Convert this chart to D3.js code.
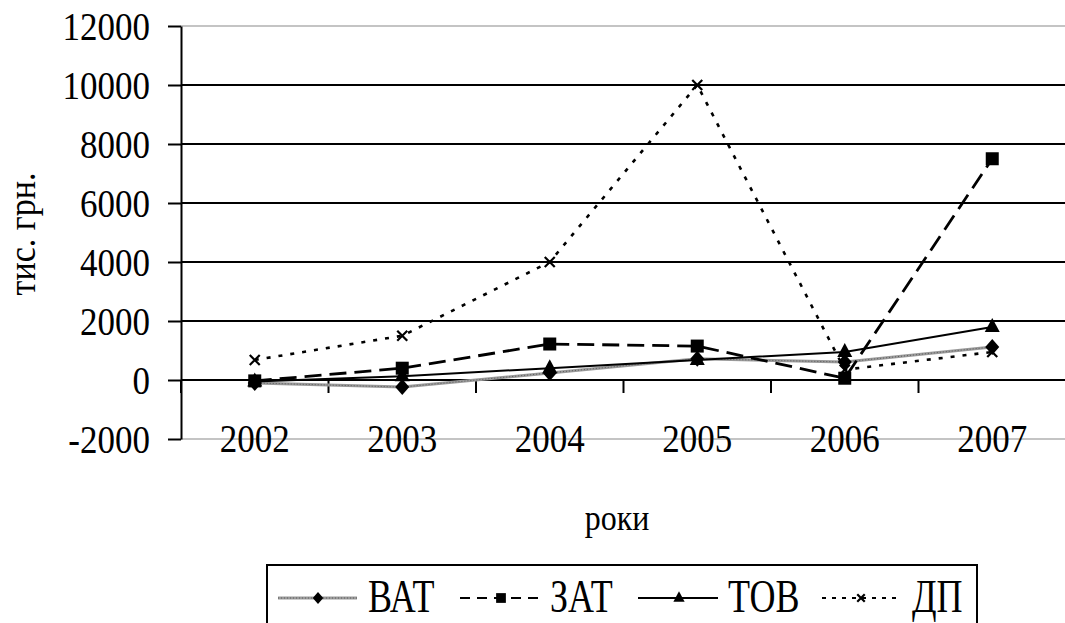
<!DOCTYPE html>
<html>
<head>
<meta charset="utf-8">
<script src="https://cdn.jsdelivr.net/npm/d3@7"></script>
<style>
  html, body { margin: 0; padding: 0; background: #fff; }
  svg { display: block; }
</style>
</head>
<body>
<svg id="chart" width="1065" height="623"></svg>
<script>
// Річні показники за типами підприємств, тис. грн.
const years = ["2002", "2003", "2004", "2005", "2006", "2007"];
const vat = [-100, -240, 240, 720, 610, 1120];
const zat = [-30, 400, 1220, 1150, 60, 7500];
const tov = [-50, 130, 400, 680, 950, 1800];
const dp  = [680, 1500, 4000, 10000, 350, 950];
const yTicks = [-2000, 0, 2000, 4000, 6000, 8000, 10000, 12000];
const seriesNames = ["ВАТ", "ЗАТ", "ТОВ", "ДП"];

const FONT = "Liberation Serif, DejaVu Serif, serif";
const svg = d3.select("#chart");
const W = 1065;

const plotLeft = 181, band = 147.5;
const x = d3.scaleBand().domain(years).range([plotLeft, plotLeft + band * years.length]).padding(0);
const cx = d => x(d) + x.bandwidth() / 2;
const y = d3.scaleLinear().domain([-2000, 12000]).range([439, 26]);

// horizontal gridlines; top and bottom edges are the light plot border
svg.append("g").selectAll("line").data(yTicks).join("line")
  .attr("x1", plotLeft).attr("x2", W)
  .attr("y1", d => y(d)).attr("y2", d => y(d))
  .attr("stroke", d => (d === 12000 || d === -2000) ? "#c4c4c4" : "#000")
  .attr("stroke-width", 2);

// value axis
const yAxis = d3.axisLeft(y).tickValues(yTicks).tickSize(13).tickSizeOuter(0).tickFormat("");
const gy = svg.append("g").attr("transform", `translate(${plotLeft},0)`).call(yAxis);
gy.select(".domain").attr("stroke", "#000").attr("stroke-width", 2);
gy.selectAll(".tick line").attr("stroke", "#000").attr("stroke-width", 2);

svg.append("g").selectAll("text").data(yTicks).join("text")
  .attr("transform", d => `translate(150,${y(d) + 14}) scale(1,1.15)`)
  .attr("text-anchor", "end")
  .attr("font-family", FONT)
  .attr("font-size", 35)
  .text(d => d);

// category boundary ticks hanging from the zero line
const bounds = years.map(d => x(d)).concat([x.range()[1]]);
svg.append("g").selectAll("line").data(bounds).join("line")
  .attr("x1", d => d).attr("x2", d => d)
  .attr("y1", y(0)).attr("y2", y(0) + 13)
  .attr("stroke", "#000").attr("stroke-width", 2);

// category labels along the bottom edge
svg.append("g").selectAll("text").data(years).join("text")
  .attr("transform", d => `translate(${cx(d)},452) scale(1,1.15)`)
  .attr("text-anchor", "middle")
  .attr("font-family", FONT)
  .attr("font-size", 35)
  .text(d => d);

// axis titles
svg.append("text")
  .attr("transform", "translate(617,530) scale(1,1.15)")
  .attr("text-anchor", "middle")
  .attr("font-family", FONT)
  .attr("font-size", 32)
  .text("роки");

svg.append("text")
  .attr("transform", "translate(35,234) rotate(-90) scale(1,1.1)")
  .attr("text-anchor", "middle")
  .attr("font-family", FONT)
  .attr("font-size", 34)
  .text("тис. грн.");

// series styles
const styles = [
  { name: "ВАТ", values: vat, stroke: "#9a9a9a", width: 3, dash: null, overlay: true, marker: "diamond" },
  { name: "ЗАТ", values: zat, stroke: "#000", width: 2.8, dash: "17,8", marker: "square" },
  { name: "ТОВ", values: tov, stroke: "#000", width: 2, dash: null, marker: "triangle" },
  { name: "ДП",  values: dp,  stroke: "#000", width: 2.6, dash: "4,8", marker: "cross" }
];

function drawMarker(g, type, px, py, s) {
  if (type === "diamond") {
    g.append("path").attr("d", `M${px},${py - 8 * s}L${px + 7 * s},${py}L${px},${py + 8 * s}L${px - 7 * s},${py}Z`).attr("fill", "#000");
  } else if (type === "square") {
    g.append("rect").attr("x", px - 6.5 * s).attr("y", py - 6.5 * s).attr("width", 13 * s).attr("height", 13 * s).attr("fill", "#000");
  } else if (type === "triangle") {
    g.append("path").attr("d", `M${px},${py - 9 * s}L${px + 7.5 * s},${py + 5 * s}L${px - 7.5 * s},${py + 5 * s}Z`).attr("fill", "#000");
  } else if (type === "cross") {
    const r = 5 * s;
    g.append("path").attr("d", `M${px - r},${py - r}L${px + r},${py + r}M${px - r},${py + r}L${px + r},${py - r}`)
      .attr("stroke", "#000").attr("stroke-width", 2.2).attr("fill", "none");
  }
}

const line = d3.line().x((v, i) => cx(years[i])).y(v => y(v));

styles.forEach(s => {
  const g = svg.append("g");
  g.append("path").attr("d", line(s.values))
    .attr("fill", "none").attr("stroke", s.stroke).attr("stroke-width", s.width)
    .attr("stroke-dasharray", s.dash);
  if (s.overlay) {
    g.append("path").attr("d", line(s.values))
      .attr("fill", "none").attr("stroke", "#5a5a5a").attr("stroke-width", 1)
      .attr("stroke-dasharray", "1,2");
  }
  s.values.forEach((v, i) => drawMarker(g, s.marker, cx(years[i]), y(v), 1));
});

// legend
const legend = svg.append("g");
legend.append("rect").attr("x", 267).attr("y", 565).attr("width", 710).attr("height", 80)
  .attr("fill", "#fff").attr("stroke", "#000").attr("stroke-width", 2);

const legendItems = [
  { x1: 278, x2: 357, mx: 318, tx: 368, dash: null },
  { x1: 460, x2: 540, mx: 501, tx: 550, dash: "10,7" },
  { x1: 638, x2: 718, mx: 679, tx: 728, dash: null },
  { x1: 822, x2: 898, mx: 861, tx: 912, dash: "4,6" }
];
const ly = 598;
styles.forEach((s, i) => {
  const it = legendItems[i];
  legend.append("line").attr("x1", it.x1).attr("x2", it.x2).attr("y1", ly).attr("y2", ly)
    .attr("stroke", s.stroke).attr("stroke-width", i === 0 ? 3 : 2.2)
    .attr("stroke-dasharray", it.dash);
  if (s.overlay) {
    legend.append("line").attr("x1", it.x1).attr("x2", it.x2).attr("y1", ly).attr("y2", ly)
      .attr("stroke", "#5a5a5a").attr("stroke-width", 1).attr("stroke-dasharray", "1,2");
  }
  drawMarker(legend, s.marker, it.mx, ly, 0.75);
  legend.append("text")
    .attr("transform", `translate(${it.tx},612) scale(1,1.3)`)
    .attr("font-family", FONT)
    .attr("font-size", 36)
    .text(seriesNames[i]);
});
</script>
</body>
</html>
